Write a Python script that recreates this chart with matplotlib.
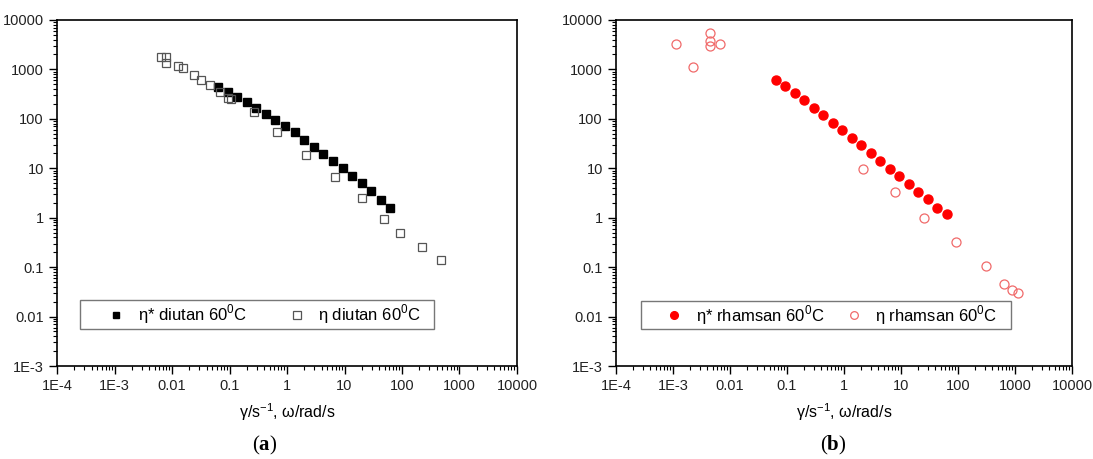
import numpy as np
import matplotlib
matplotlib.use("Agg")
import matplotlib.pyplot as plt
from matplotlib.patches import Rectangle
from matplotlib.ticker import LogLocator, FixedLocator, FixedFormatter, NullFormatter

plt.rcParams["font.family"] = ["Liberation Sans", "DejaVu Sans"]
plt.rcParams["mathtext.fontset"] = "custom"
plt.rcParams["mathtext.rm"] = "Liberation Sans"
plt.rcParams["mathtext.bf"] = "Liberation Serif:bold"

# ---- panel (a): diutan ----
diutan_osc_x = [0.063, 0.093, 0.136, 0.2, 0.293, 0.43, 0.63, 0.93, 1.36, 2.0,
                2.93, 4.3, 6.3, 9.3, 13.6, 20, 29.3, 43, 63]
diutan_osc_y = [431, 342, 275, 215, 165, 125, 95, 70, 53, 37,
                27, 19.5, 14, 10, 7.0, 5.0, 3.4, 2.3, 1.6]
diutan_flow_x = [0.0064, 0.0079, 0.0079, 0.0125, 0.0157, 0.0237, 0.0324, 0.045, 0.068, 0.0955,
                 0.107, 0.269, 0.677, 2.11, 6.77, 20.2, 49.4, 93.7, 226, 486]
diutan_flow_y = [1795, 1795, 1316, 1181, 1059, 777, 615, 481, 342, 259,
                 247, 137, 54, 18.9, 6.7, 2.5, 0.94, 0.48, 0.255, 0.137]

# ---- panel (b): rhamsan ----
rhamsan_osc_x = [0.063, 0.093, 0.136, 0.2, 0.293, 0.43, 0.63, 0.93, 1.36, 2.0,
                 2.93, 4.3, 6.3, 9.3, 13.6, 20, 29.3, 43, 63]
rhamsan_osc_y = [600, 454, 328, 237, 169, 118, 83, 59, 41.3, 28.9,
                 20.3, 14.2, 9.8, 6.9, 4.8, 3.37, 2.36, 1.6, 1.2]
rhamsan_flow_x = [0.00113, 0.00225, 0.00453, 0.00453, 0.00453, 0.00675, 2.13, 7.82, 25.2, 93.8,
                  307, 635, 871, 1109]
rhamsan_flow_y = [3283, 1112, 5383, 3715, 2902, 3283, 9.8, 3.37, 0.98, 0.32,
                  0.104, 0.046, 0.034, 0.0297]

x_ticks = [1e-4, 1e-3, 1e-2, 1e-1, 1, 10, 100, 1000, 10000]
x_labels = ["1E-4", "1E-3", "0.01", "0.1", "1", "10", "100", "1000", "10000"]
y_ticks = [1e-3, 1e-2, 1e-1, 1, 10, 100, 1000, 10000]
y_labels = ["1E-3", "0.01", "0.1", "1", "10", "100", "1000", "10000"]


def style_axes(ax):
    ax.set_xscale("log")
    ax.set_yscale("log")
    ax.set_xlim(1e-4, 1e4)
    ax.set_ylim(1e-3, 1e4)
    ax.xaxis.set_major_locator(FixedLocator(x_ticks))
    ax.xaxis.set_major_formatter(FixedFormatter(x_labels))
    ax.yaxis.set_major_locator(FixedLocator(y_ticks))
    ax.yaxis.set_major_formatter(FixedFormatter(y_labels))
    ax.xaxis.set_minor_locator(LogLocator(base=10, subs=np.arange(2, 10), numticks=20))
    ax.yaxis.set_minor_locator(LogLocator(base=10, subs=np.arange(2, 10), numticks=20))
    ax.xaxis.set_minor_formatter(NullFormatter())
    ax.yaxis.set_minor_formatter(NullFormatter())
    ax.tick_params(which="major", direction="out", length=6, width=1.0,
                   labelsize=10.5, colors="black", labelcolor="#222222")
    ax.tick_params(which="minor", direction="out", length=3, width=0.8)
    ax.tick_params(top=False, right=False, which="both")
    for s in ax.spines.values():
        s.set_linewidth(1.2)
    ax.set_xlabel(r"γ/s$^{\mathregular{-1}}$, ω/rad/s", fontsize=11.5, labelpad=6)


def add_legend(ax, box, start_x, colsp):
    # legend frame drawn as a plain rectangle, entries placed inside it
    ax.add_patch(Rectangle(box[:2], box[2], box[3], transform=ax.transAxes,
                           fill=False, ec="#777777", lw=1.0, zorder=5))
    ax.legend(loc="center left", bbox_to_anchor=(start_x, box[1] + box[3] / 2),
              ncol=2, fontsize=12, frameon=False, markerscale=0.85,
              handlelength=1.0, handletextpad=0.8, columnspacing=colsp,
              borderpad=0, borderaxespad=0)


fig = plt.figure(figsize=(10.93, 4.59), dpi=100)
ax1 = fig.add_axes([0.0522, 0.2026, 0.4208, 0.754])
ax2 = fig.add_axes([0.5636, 0.2026, 0.4172, 0.754])

ax1.plot(diutan_osc_x, diutan_osc_y, ls="none", marker="s", ms=5.5,
         mfc="black", mec="black", label=r"η* diutan 60$^{\mathregular{0}}$C")
ax1.plot(diutan_flow_x, diutan_flow_y, ls="none", marker="s", ms=6,
         mfc="none", mec="#555555", mew=0.9, label=r"η diutan 60$^{\mathregular{0}}$C")

ax2.plot(rhamsan_osc_x, rhamsan_osc_y, ls="none", marker="o", ms=6.5,
         mfc="#ff0000", mec="#ff0000", label=r"η* rhamsan 60$^{\mathregular{0}}$C")
ax2.plot(rhamsan_flow_x, rhamsan_flow_y, ls="none", marker="o", ms=6.5,
         mfc="none", mec="#f06a6a", mew=0.9, label=r"η rhamsan 60$^{\mathregular{0}}$C")

style_axes(ax1)
style_axes(ax2)
add_legend(ax1, (0.05, 0.108, 0.769, 0.082), 0.111, 2.45)
add_legend(ax2, (0.055, 0.106, 0.811, 0.082), 0.109, 1.25)

fig.text(0.2425, 0.03, r"($\mathbf{a}$)", ha="center", va="center",
         fontsize=15, family="Liberation Serif")
fig.text(0.7625, 0.03, r"($\mathbf{b}$)", ha="center", va="center",
         fontsize=15, family="Liberation Serif")

fig.savefig("out.png", dpi=100)
